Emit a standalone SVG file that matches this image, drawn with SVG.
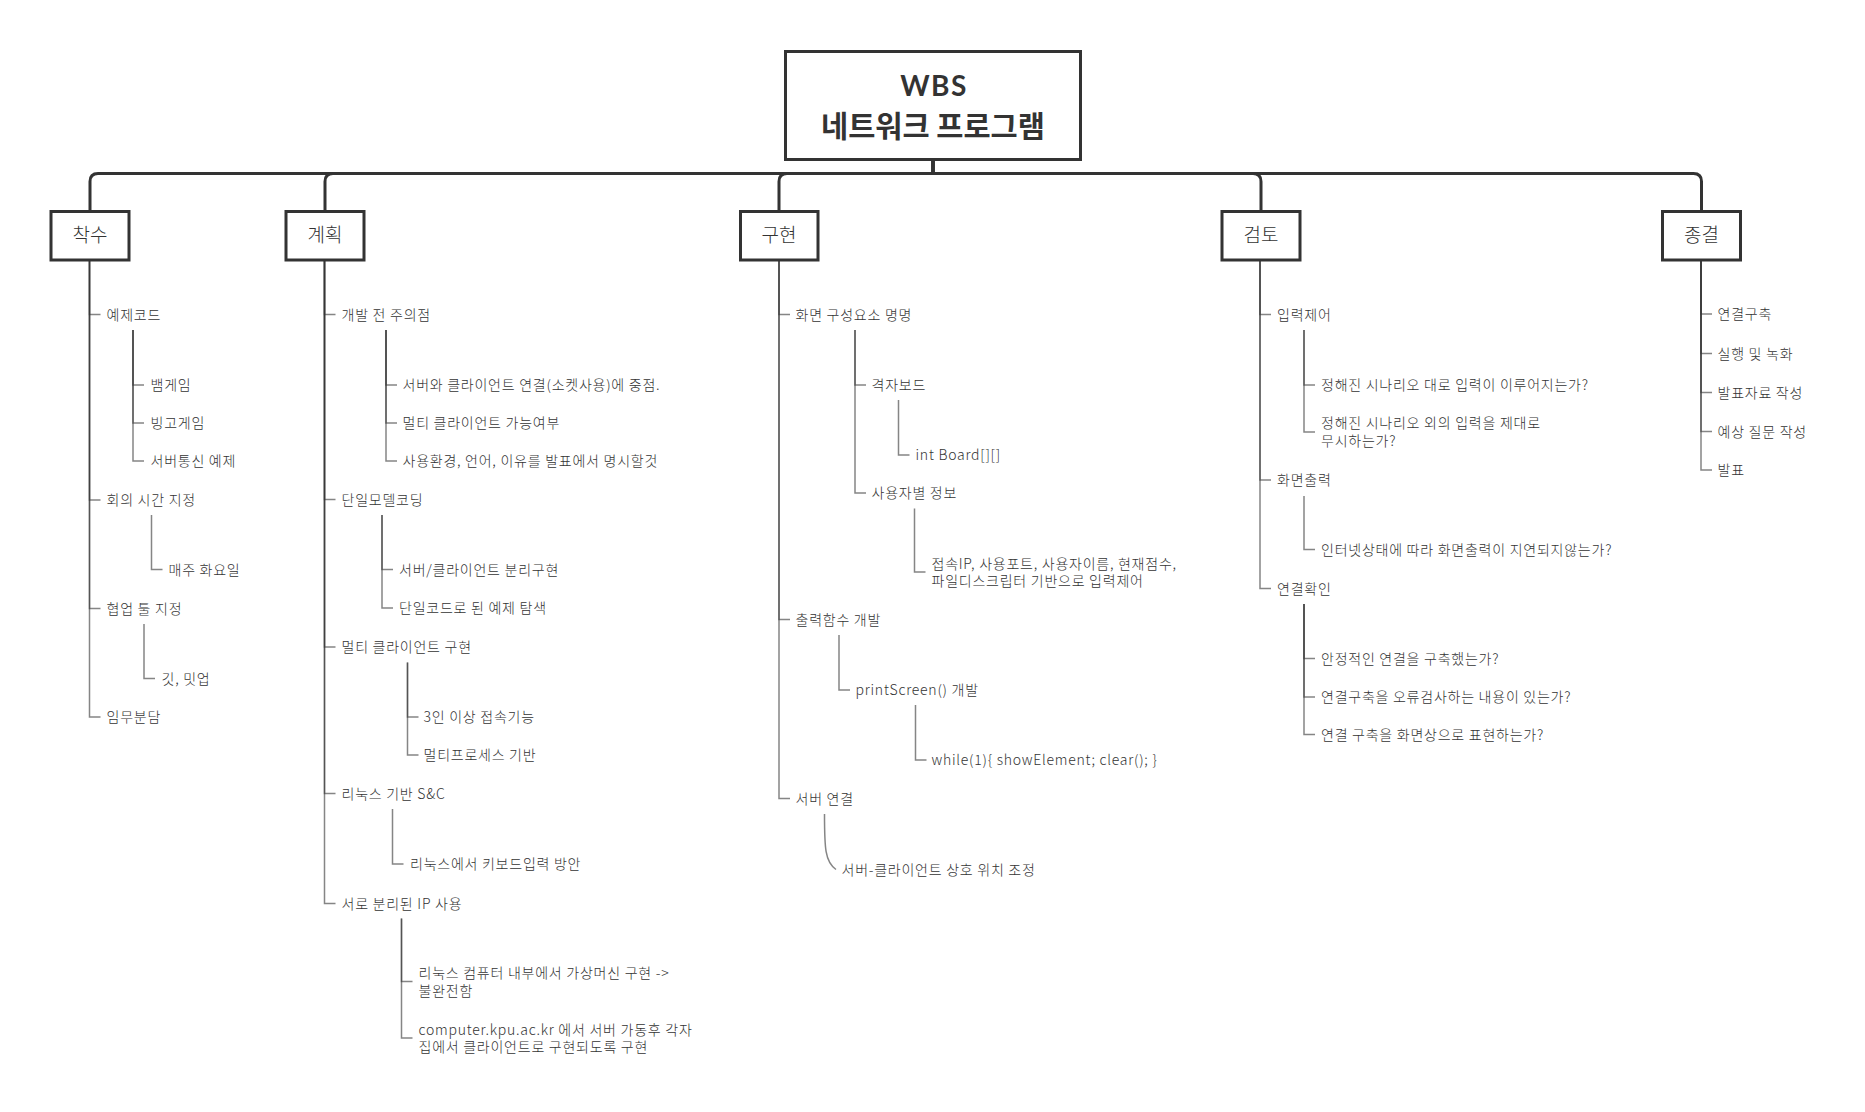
<svg xmlns="http://www.w3.org/2000/svg" width="1865" height="1112" viewBox="0 0 1865 1112">
<style>
.bg{fill:#fff}
.box{fill:#fff;stroke:#333;stroke-width:3}
.main{fill:none;stroke:#333;stroke-width:3}
.sub{fill:none;stroke:#333;stroke-width:1.5;stroke-opacity:0.6}
text{font-family:"Noto Sans CJK KR","Noto Sans",sans-serif;fill:#333;dominant-baseline:central}
.t{font-size:14px;letter-spacing:0.75px;font-weight:300}
.bt{font-size:19px;text-anchor:middle;font-weight:300}
.title{font-weight:bold;text-anchor:middle}
.latin{font-family:Lato,"Noto Sans",sans-serif;font-size:28px;letter-spacing:1.5px}
</style>
<rect class="bg" x="0" y="0" width="1865" height="1112"/>
<g id="connectors">
<path class="main" d="M933,160 V173.5 H98 Q90,173.5 90,181.5 V211"/>
<path class="main" d="M933,160 V173.5 H333 Q325,173.5 325,181.5 V211"/>
<path class="main" d="M933,160 V173.5 H787 Q779,173.5 779,181.5 V211"/>
<path class="main" d="M933,160 V173.5 H1253 Q1261,173.5 1261,181.5 V211"/>
<path class="main" d="M933,160 V173.5 H1693.5 Q1701.5,173.5 1701.5,181.5 V211"/>
<path class="sub" d="M89.5,260 V314.5 H100.5"/>
<path class="sub" d="M89.5,260 V500 H100.5"/>
<path class="sub" d="M89.5,260 V608.5 H100.5"/>
<path class="sub" d="M89.5,260 V717 H100.5"/>
<path class="sub" d="M133,330 V385 H144"/>
<path class="sub" d="M133,330 V423 H144"/>
<path class="sub" d="M133,330 V461 H144"/>
<path class="sub" d="M151.5,515 V569.5 H162.5"/>
<path class="sub" d="M144,624 V678.5 H155"/>
<path class="sub" d="M324.5,260 V314.5 H335.5"/>
<path class="sub" d="M324.5,260 V499.5 H335.5"/>
<path class="sub" d="M324.5,260 V647 H335.5"/>
<path class="sub" d="M324.5,260 V793.5 H335.5"/>
<path class="sub" d="M324.5,260 V903.5 H335.5"/>
<path class="sub" d="M386,330 V385 H397"/>
<path class="sub" d="M386,330 V423 H397"/>
<path class="sub" d="M386,330 V461 H397"/>
<path class="sub" d="M382,515 V569.5 H393"/>
<path class="sub" d="M382,515 V608 H393"/>
<path class="sub" d="M407.5,662.5 V717 H418.5"/>
<path class="sub" d="M407.5,662.5 V755 H418.5"/>
<path class="sub" d="M392.5,809 V864 H403.5"/>
<path class="sub" d="M401.5,918.5 V981.5 H412.5"/>
<path class="sub" d="M401.5,918.5 V1038 H412.5"/>
<path class="sub" d="M779,260 V314.5 H790"/>
<path class="sub" d="M779,260 V619.5 H790"/>
<path class="sub" d="M779,260 V798.5 H790"/>
<path class="sub" d="M855,330 V385 H866"/>
<path class="sub" d="M855,330 V493 H866"/>
<path class="sub" d="M898.5,400 V455 H909.5"/>
<path class="sub" d="M914.5,508.5 V572 H925.5"/>
<path class="sub" d="M839,635 V690 H850"/>
<path class="sub" d="M915.5,705 V760 H926.5"/>
<path class="sub" d="M824.5,814 C824.5,848 825,862 836,869.5"/>
<path class="sub" d="M1260,260 V314.5 H1271"/>
<path class="sub" d="M1260,260 V480 H1271"/>
<path class="sub" d="M1260,260 V588.5 H1271"/>
<path class="sub" d="M1304,330 V385 H1315"/>
<path class="sub" d="M1304,330 V432 H1315"/>
<path class="sub" d="M1304,496 V549.5 H1315"/>
<path class="sub" d="M1304,604 V658.5 H1315"/>
<path class="sub" d="M1304,604 V697 H1315"/>
<path class="sub" d="M1304,604 V734.5 H1315"/>
<path class="sub" d="M1701,260 V314 H1712"/>
<path class="sub" d="M1701,260 V353.5 H1712"/>
<path class="sub" d="M1701,260 V392.5 H1712"/>
<path class="sub" d="M1701,260 V431.5 H1712"/>
<path class="sub" d="M1701,260 V470 H1712"/>
</g>
<g id="root">
<rect class="box" x="785.5" y="51.5" width="295" height="108"/>
<text class="title latin" x="934" y="84.5">WBS</text>
<text class="title" x="933" y="123.5" style="font-size:29.5px">네트워크 프로그램</text>
</g>
<g id="n-start"><rect class="box" x="51" y="211.5" width="78" height="48.5"/><text class="bt" x="90" y="233.5">착수</text></g>
<g id="n-plan"><rect class="box" x="286" y="211.5" width="78" height="48.5"/><text class="bt" x="325" y="233.5">계획</text></g>
<g id="n-impl"><rect class="box" x="740.5" y="211.5" width="77.5" height="48.5"/><text class="bt" x="779" y="233.5">구현</text></g>
<g id="n-review"><rect class="box" x="1222" y="211.5" width="78" height="48.5"/><text class="bt" x="1261" y="233.5">검토</text></g>
<g id="n-close"><rect class="box" x="1662.5" y="211.5" width="78" height="48.5"/><text class="bt" x="1701.5" y="233.5">종결</text></g>

<g id="items-start">
<text class="t" x="106.5" y="313.5">예제코드</text>
<text class="t" x="150.5" y="384">뱀게임</text>
<text class="t" x="150.5" y="422">빙고게임</text>
<text class="t" x="150.5" y="460">서버통신 예제</text>
<text class="t" x="106.5" y="499">회의 시간 지정</text>
<text class="t" x="168.5" y="568.5">매주 화요일</text>
<text class="t" x="106.5" y="607.5">협업 툴 지정</text>
<text class="t" x="161.5" y="677.5">깃, 밋업</text>
<text class="t" x="106.5" y="716">임무분담</text>
</g>
<g id="items-plan">
<text class="t" x="341.5" y="313.5">개발 전 주의점</text>
<text class="t" x="402.5" y="384">서버와 클라이언트 연결(소켓사용)에 중점.</text>
<text class="t" x="402.5" y="422">멀티 클라이언트 가능여부</text>
<text class="t" x="402.5" y="460">사용환경, 언어, 이유를 발표에서 명시할것</text>
<text class="t" x="341.5" y="498.5">단일모델코딩</text>
<text class="t" x="399" y="568.5">서버/클라이언트 분리구현</text>
<text class="t" x="399" y="607">단일코드로 된 예제 탐색</text>
<text class="t" x="341.5" y="646">멀티 클라이언트 구현</text>
<text class="t" x="423.5" y="716">3인 이상 접속기능</text>
<text class="t" x="423.5" y="754">멀티프로세스 기반</text>
<text class="t" x="341.5" y="792.5">리눅스 기반 S&amp;C</text>
<text class="t" x="410" y="863">리눅스에서 키보드입력 방안</text>
<text class="t" x="341.5" y="902.5">서로 분리된 IP 사용</text>
<text class="t" x="418.5" y="972">리눅스 컴퓨터 내부에서 가상머신 구현  -&gt;</text>
<text class="t" x="418.5" y="989.5">불완전함</text>
<text class="t" x="418.5" y="1028.5">computer.kpu.ac.kr 에서 서버 가동후 각자</text>
<text class="t" x="418.5" y="1046">집에서 클라이언트로 구현되도록 구현</text>
</g>
<g id="items-impl">
<text class="t" x="795.5" y="313.5">화면 구성요소 명명</text>
<text class="t" x="871.5" y="384">격자보드</text>
<text class="t" x="915.5" y="454">int Board[][]</text>
<text class="t" x="871.5" y="492">사용자별 정보</text>
<text class="t" x="931.5" y="562.5">접속IP, 사용포트, 사용자이름, 현재점수,</text>
<text class="t" x="931.5" y="580">파일디스크립터 기반으로 입력제어</text>
<text class="t" x="795.5" y="618.5">출력함수 개발</text>
<text class="t" x="855.5" y="689">printScreen() 개발</text>
<text class="t" x="931.5" y="759">while(1){ showElement; clear(); }</text>
<text class="t" x="795.5" y="797.5">서버 연결</text>
<text class="t" x="841.5" y="868.5">서버-클라이언트 상호 위치 조정</text>
</g>
<g id="items-review">
<text class="t" x="1277" y="313.5">입력제어</text>
<text class="t" x="1321" y="384">정해진 시나리오 대로 입력이 이루어지는가?</text>
<text class="t" x="1321" y="422">정해진 시나리오 외의 입력을 제대로</text>
<text class="t" x="1321" y="440">무시하는가?</text>
<text class="t" x="1277" y="479">화면출력</text>
<text class="t" x="1321" y="548.5">인터넷상태에 따라 화면출력이 지연되지않는가?</text>
<text class="t" x="1277" y="587.5">연결확인</text>
<text class="t" x="1321" y="657.5">안정적인 연결을 구축했는가?</text>
<text class="t" x="1321" y="696">연결구축을 오류검사하는 내용이 있는가?</text>
<text class="t" x="1321" y="733.5">연결 구축을 화면상으로 표현하는가?</text>
</g>
<g id="items-close">
<text class="t" x="1717.5" y="313">연결구축</text>
<text class="t" x="1717.5" y="352.5">실행 및 녹화</text>
<text class="t" x="1717.5" y="391.5">발표자료 작성</text>
<text class="t" x="1717.5" y="430.5">예상 질문 작성</text>
<text class="t" x="1717.5" y="469">발표</text>
</g>
</svg>
